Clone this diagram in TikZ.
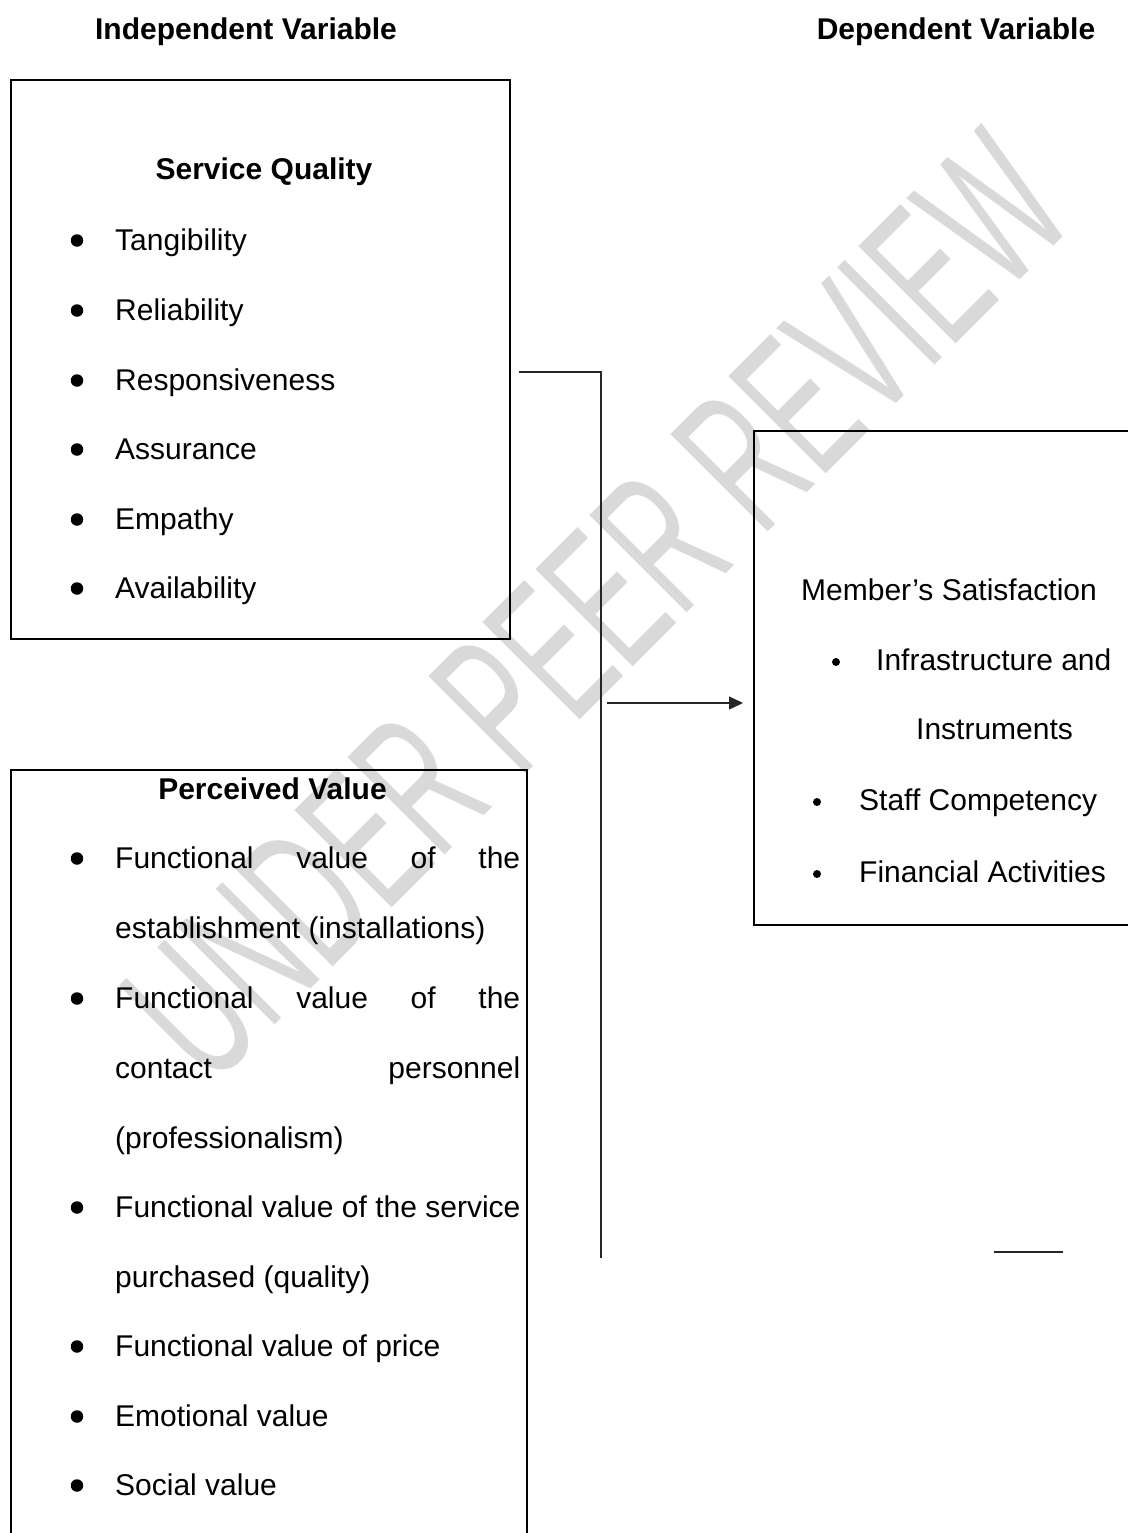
\documentclass[tikz,border=0pt]{standalone}
\usepackage{fontspec}
\setmainfont{Liberation Sans}
\usetikzlibrary{arrows.meta}
\begin{document}
\begin{tikzpicture}[x=1pt,y=-1pt,
  txt/.style={anchor=base west, inner sep=0pt, font=\fontsize{30}{36}\selectfont},
  ttl/.style={anchor=base, inner sep=0pt, font=\fontsize{30}{36}\selectfont\bfseries},
  frame/.style={draw=black, line width=2pt, inner sep=0pt},
  link/.style={draw=black!85, line width=1.3pt},
  bigdot/.style={circle, fill=black, inner sep=0pt, minimum size=12.5pt},
  smalldot/.style={circle, fill=black, inner sep=0pt, minimum size=8pt},
  stamp/.style={rotate=45, anchor=base, inner sep=0pt, text=black!15,
                font=\fontsize{200}{200}\selectfont}
]
\useasboundingbox (0,0) rectangle (1127,1533);

% faint diagonal stamp behind everything
\node[stamp] (wm) at (645,655) {\scalebox{0.57}[1]{UNDER PEER REVIEW}};

% column headings
\node[ttl] (iv) at (246,40) {Independent Variable};
\node[ttl] (dv) at (956,40) {Dependent Variable};

% boxes
\node[frame, minimum width=499pt, minimum height=559pt] (sq) at (260.5,359.5) {};
\node[frame, minimum width=516pt, minimum height=775pt] (pv) at (269,1157.5) {};
\node[frame, minimum width=386pt, minimum height=494pt] (ms) at (947,678) {};

% Service Quality
\node[ttl] (sqt) at (264,179) {Service Quality};
\foreach \t/\yy [count=\i] in {Tangibility/250, Reliability/320,
    Responsiveness/390, Assurance/459, Empathy/529, Availability/598}{
  \node[bigdot] (sqd\i) at (77,\yy-9.5) {};
  \node[txt] (sqi\i) at (115,\yy) {\t};
}

% Perceived Value
\node[ttl] (pvt) at (272.5,799) {Perceived Value};
\node[bigdot] (pvd1) at (77,858.5) {};
\node[txt] (pvl1) at (115,868) {\hbox to 405pt{Functional\hfill value\hfill of\hfill the}};
\node[txt] (pvl2) at (115,938) {establishment (installations)};
\node[bigdot] (pvd2) at (77,998.5) {};
\node[txt] (pvl3) at (115,1008) {\hbox to 405pt{Functional\hfill value\hfill of\hfill the}};
\node[txt] (pvl4) at (115,1078) {\hbox to 405pt{contact\hfill personnel}};
\node[txt] (pvl5) at (115,1148) {(professionalism)};
\node[bigdot] (pvd3) at (77,1207.5) {};
\node[txt] (pvl6) at (115,1217) {Functional value of the service};
\node[txt] (pvl7) at (115,1287) {purchased (quality)};
\node[bigdot] (pvd4) at (77,1346.5) {};
\node[txt] (pvl8) at (115,1356) {Functional value of price};
\node[bigdot] (pvd5) at (77,1416.5) {};
\node[txt] (pvl9) at (115,1426) {Emotional value};
\node[bigdot] (pvd6) at (77,1485.5) {};
\node[txt] (pvl10) at (115,1495) {Social value};

% Member's Satisfaction
\node[txt] (mst) at (801,600) {Member’s Satisfaction};
\node[smalldot] (msd1) at (836,662) {};
\node[txt] (msi1) at (876,670) {Infrastructure and};
\node[txt] (msi2) at (916,739) {Instruments};
\node[smalldot] (msd2) at (817,802) {};
\node[txt] (msi3) at (859,810) {Staff Competency};
\node[smalldot] (msd3) at (817,874) {};
\node[txt] (msi4) at (859,882) {Financial Activities};

% connectors
\coordinate (j1) at (601,372);
\coordinate (j2) at (601,1258);
\coordinate (a0) at (607,703);
\coordinate (s1) at (994,1252);
\coordinate (s2) at (1063,1252);
\draw[link, shorten <=8pt] (sq.east |- j1) -- (j1) -- (j2);
\draw[link, -{Triangle[length=14pt,width=13pt]}, shorten >=10pt] (a0) -- (ms.west |- a0);
\draw[link] (s1) -- (s2);
\end{tikzpicture}
\end{document}
